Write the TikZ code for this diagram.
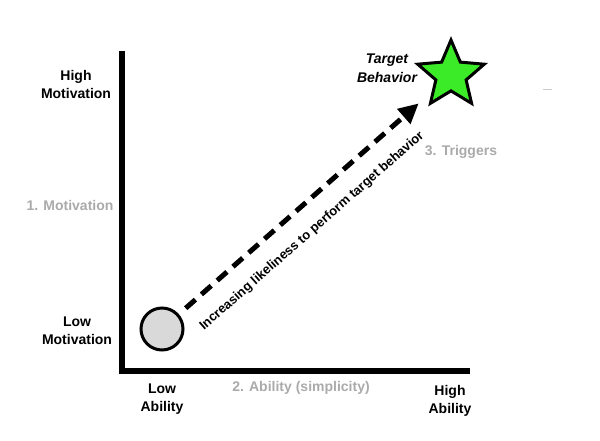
\documentclass[tikz,border=0pt]{standalone}
\usepackage{fontspec}
\setmainfont{Liberation Sans}
\usetikzlibrary{calc,positioning,arrows.meta}
\usetikzlibrary{shapes.geometric}

\definecolor{stargreen}{RGB}{60,235,40}
\definecolor{faint}{RGB}{170,170,170}

\begin{document}
\begin{tikzpicture}[x=1pt,y=-1pt,inner sep=0pt,
  lbl/.style={font=\fontsize{14}{18}\selectfont\bfseries,align=center},
  greylbl/.style={lbl,text=faint},
  axis/.style={line width=5.5pt,line cap=rect}]

\useasboundingbox (0,0) rectangle (600,440);

\coordinate (o) at (122,371); %rog osi
\coordinate (ytop) at (122,54); %gora osi
\coordinate (xend) at (467,371); %koniec osi

\draw [axis] (ytop) -- (o) -- (xend);

% punkty
\node (low) [circle,draw,line width=3pt,fill=black!15,minimum size=42pt] at (162,329) {};
\node (target) [star,star points=5,star point ratio=2.2,draw,line width=3pt,
  fill=stargreen,minimum size=70pt] at (451,75) {};

\draw [line width=5pt,dash pattern=on 13pt off 8pt,
  -{Triangle[length=20pt,width=19pt]},shorten <=9pt,shorten >=17pt] (low) -- (target)
  node [pos=0.46,sloped,below=17pt,font=\fontsize{13}{15}\selectfont\bfseries]
  (lik) {Increasing likeliness to perform target behavior};

% opisy
\node (himot) [lbl] at (76,84) {High\\Motivation};
\node (mot) [greylbl] at (70,205) {1. Motivation};
\node (lomot) [lbl] at (77,331) {Low\\Motivation};
\node (loab) [lbl] at (162,399) {Low\\Ability};
\node (ab) [greylbl] at (301,388) {2. Ability (simplicity)};
\node (hiab) [lbl] at (450,401) {High\\Ability};
\node (trig) [greylbl] at (461,152) {3. Triggers};
\node (tb) [lbl,font=\fontsize{14}{19}\selectfont\bfseries\itshape] at (387,68) {Target\\Behavior};

\draw [faint!60,line width=1pt] (543,89) -- (552,89);
\end{tikzpicture}
\end{document}
